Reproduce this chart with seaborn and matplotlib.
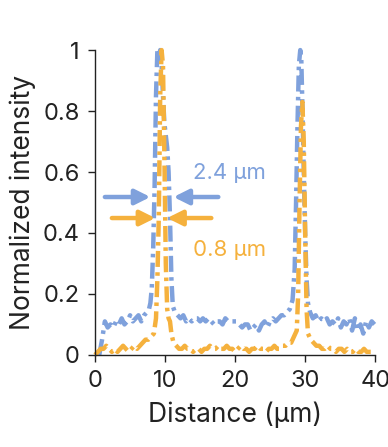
import matplotlib
matplotlib.use("Agg")
import matplotlib.pyplot as plt
import seaborn as sns
import pandas as pd

# Line profiles (distance in um, normalized intensity)
blue_x = [0.6, 1.0, 1.4, 1.8, 2.2, 2.6, 3.0, 3.4, 3.8, 4.2, 4.6, 5.0, 5.4, 5.8, 6.2, 6.6, 7.0,
          7.4, 7.7, 7.9, 8.1, 8.3, 8.5, 8.7, 8.9, 9.1, 9.3, 9.5, 9.7, 9.9, 10.1, 10.3, 10.5, 10.7,
          10.9, 11.1, 11.4, 11.8, 12.2, 12.6, 13.0, 13.4, 13.8, 14.2, 14.6, 15.0, 15.4, 15.8, 16.2,
          16.6, 17.0, 17.4, 17.8, 18.2, 18.6, 19.0, 19.4, 19.8, 20.2, 20.6, 21.0, 21.4, 21.8, 22.2,
          22.6, 23.0, 23.4, 23.8, 24.2, 24.6, 25.0, 25.4, 25.8, 26.2, 26.6, 27.0, 27.4, 27.8, 28.2,
          28.5, 28.7, 28.9, 29.1, 29.3, 29.45, 29.6, 29.8, 30.0, 30.2, 30.4, 30.7, 31.1, 31.5, 31.9,
          32.3, 32.7, 33.1, 33.5, 33.9, 34.3, 34.7, 35.1, 35.5, 35.9, 36.3, 36.7, 37.1, 37.5, 37.9,
          38.3, 38.7, 39.1, 39.5, 39.9]
blue_y = [0.00, 0.05, 0.11, 0.09, 0.10, 0.09, 0.11, 0.10, 0.12, 0.10, 0.11, 0.13, 0.11, 0.12, 0.13, 0.11, 0.13,
          0.14, 0.15, 0.17, 0.22, 0.35, 0.55, 0.85, 1.00, 0.97, 1.00, 0.95, 0.85, 0.76, 0.72, 0.68, 0.60, 0.45,
          0.25, 0.16, 0.14, 0.13, 0.12, 0.13, 0.11, 0.12, 0.11, 0.12, 0.12, 0.11, 0.12, 0.11, 0.12,
          0.11, 0.10, 0.11, 0.11, 0.10, 0.12, 0.11, 0.11, 0.11, 0.11, 0.10, 0.09, 0.10, 0.10, 0.08,
          0.09, 0.10, 0.08, 0.10, 0.11, 0.09, 0.11, 0.12, 0.11, 0.12, 0.13, 0.13, 0.14, 0.15, 0.18,
          0.28, 0.50, 0.75, 0.95, 1.00, 0.97, 0.82, 0.60, 0.40, 0.25, 0.17, 0.14, 0.12, 0.13, 0.11,
          0.12, 0.11, 0.12, 0.10, 0.11, 0.10, 0.12, 0.09, 0.11, 0.10, 0.12, 0.08, 0.12, 0.08, 0.10,
          0.07, 0.11, 0.09, 0.11, 0.10]

orange_x = [0.0, 0.4, 0.8, 1.2, 1.6, 2.0, 2.4, 2.8, 3.2, 3.6, 4.0, 4.4, 4.8, 5.2, 5.6, 6.0, 6.4,
            6.8, 7.2, 7.6, 8.0, 8.4, 8.7, 8.9, 9.1, 9.3, 9.5, 9.7, 9.9, 10.1, 10.3, 10.5, 10.7, 10.9,
            11.2, 11.6, 12.0, 12.4, 12.8, 13.2, 13.6, 14.0, 14.4, 14.8, 15.2, 15.6, 16.0, 16.4, 16.8,
            17.2, 17.6, 18.0, 18.4, 18.8, 19.2, 19.6, 20.0, 20.4, 20.8, 21.2, 21.6, 22.0, 22.4, 22.8,
            23.2, 23.6, 24.0, 24.4, 24.8, 25.2, 25.6, 26.0, 26.4, 26.8, 27.2, 27.6, 28.0, 28.4, 28.8,
            29.0, 29.2, 29.4, 29.6, 29.8, 30.0, 30.2, 30.4, 30.8, 31.2, 31.6, 32.0, 32.4, 32.8, 33.2,
            33.6, 34.0, 34.4, 34.8, 35.2, 35.6, 36.0, 36.4, 36.8, 37.2, 37.6, 38.0, 38.4, 38.8, 39.2,
            39.6, 40.0]
orange_y = [0.00, 0.01, 0.02, 0.02, 0.03, 0.02, 0.01, 0.02, 0.01, 0.02, 0.03, 0.02, 0.01, 0.02, 0.03, 0.02, 0.03,
            0.04, 0.05, 0.05, 0.06, 0.07, 0.12, 0.25, 0.45, 0.85, 1.00, 0.95, 0.65, 0.30, 0.15, 0.12, 0.11, 0.07,
            0.04, 0.03, 0.02, 0.02, 0.03, 0.02, 0.02, 0.01, 0.02, 0.02, 0.01, 0.02, 0.02, 0.03, 0.02,
            0.02, 0.03, 0.02, 0.02, 0.03, 0.02, 0.02, 0.01, 0.02, 0.03, 0.02, 0.02, 0.01, 0.02, 0.02,
            0.03, 0.02, 0.02, 0.01, 0.02, 0.02, 0.03, 0.02, 0.02, 0.03, 0.03, 0.04, 0.04, 0.06, 0.08,
            0.20, 0.50, 0.75, 0.83, 0.70, 0.40, 0.15, 0.07, 0.05, 0.04, 0.03, 0.03, 0.02, 0.02, 0.03,
            0.02, 0.02, 0.01, 0.02, 0.02, 0.01, 0.02, 0.01, 0.01, 0.02, 0.01, 0.01, 0.02, 0.01, 0.01,
            0.01, 0.01]

x_ticks = [0, 10, 20, 30, 40]
y_ticks = [0, 0.2, 0.4, 0.6, 0.8, 1]
y_ticklabels = ["0", "0.2", "0.4", "0.6", "0.8", "1"]

blue = "#7fa1dc"
orange = "#f5b13d"

sns.set_style("ticks")
plt.rcParams["font.family"] = ["Inter", "DejaVu Sans"]

fig = plt.figure(figsize=(3.88, 4.47), dpi=100)
ax = fig.add_axes([0.245, 0.206, 0.722, 0.682])

df_blue = pd.DataFrame({"x": blue_x, "y": blue_y})
df_orange = pd.DataFrame({"x": orange_x, "y": orange_y})

sns.lineplot(data=df_blue, x="x", y="y", ax=ax, color=blue, linewidth=3.2,
             estimator=None, sort=False, clip_on=False)
sns.lineplot(data=df_orange, x="x", y="y", ax=ax, color=orange, linewidth=3.2,
             estimator=None, sort=False, clip_on=False)
for line in ax.lines:
    line.set_dashes((3.6, 1.2, 0.8, 1.2))
    line.set_dash_capstyle("butt")

# FWHM arrows
arrow_b = dict(arrowstyle="-|>,head_length=0.9,head_width=0.45", color=blue, lw=3.2, shrinkA=0, shrinkB=0)
arrow_o = dict(arrowstyle="-|>,head_length=0.9,head_width=0.45", color=orange, lw=3.2, shrinkA=0, shrinkB=0)
ax.annotate("", xy=(7.9, 0.518), xytext=(1.4, 0.518), arrowprops=arrow_b)
ax.annotate("", xy=(11.2, 0.518), xytext=(17.6, 0.518), arrowprops=arrow_b)
ax.annotate("", xy=(8.6, 0.449), xytext=(2.4, 0.449), arrowprops=arrow_o)
ax.annotate("", xy=(10.3, 0.449), xytext=(16.6, 0.449), arrowprops=arrow_o)
ax.text(14.0, 0.597, "2.4 µm", color=blue, fontsize=16, va="center", ha="left")
ax.text(14.0, 0.345, "0.8 µm", color=orange, fontsize=16, va="center", ha="left")

ax.set_xlim(0, 40)
ax.set_ylim(0, 1)
ax.set_xticks(x_ticks)
ax.set_yticks(y_ticks)
ax.set_yticklabels(y_ticklabels)
ax.tick_params(direction="out", length=5, width=1, labelsize=17, colors="#222222", pad=6)
ax.set_xlabel("Distance (µm)", fontsize=19, color="#222222", labelpad=7)
ax.set_ylabel("Normalized intensity", fontsize=19, color="#222222", labelpad=5)
for s in ["left", "bottom"]:
    ax.spines[s].set_linewidth(1)
    ax.spines[s].set_color("#222222")
sns.despine(ax=ax)

fig.savefig("out.png", dpi=100)
